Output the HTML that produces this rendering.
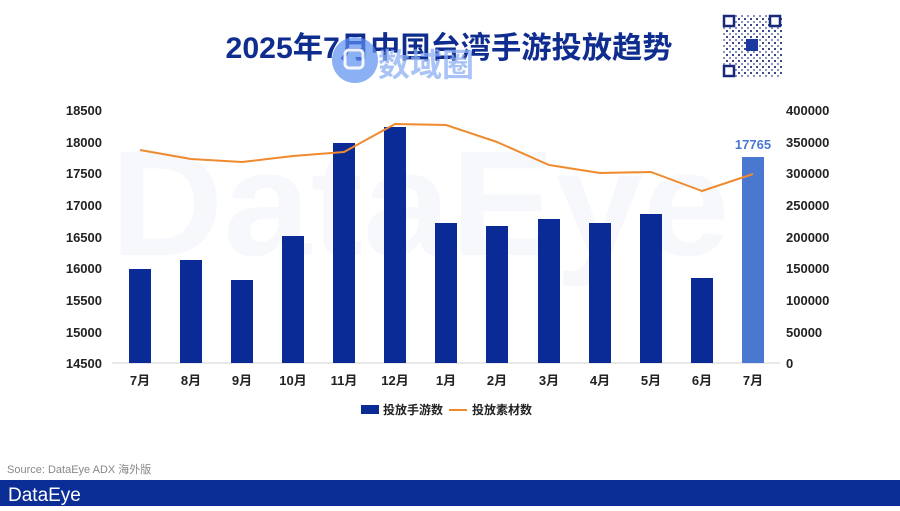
<!DOCTYPE html>
<html><head><meta charset="utf-8"><style>
html,body{margin:0;padding:0;background:#fff;}
body{width:900px;height:506px;overflow:hidden;font-family:"Liberation Sans","Noto Sans CJK SC",sans-serif;}
</style></head><body>
<svg width="900" height="506" xmlns="http://www.w3.org/2000/svg" font-family="Liberation Sans, Noto Sans CJK SC, sans-serif">
<defs>
<pattern id="qr" width="6" height="6" patternUnits="userSpaceOnUse">
<rect width="6" height="6" fill="#fff"/><rect x="0" y="0" width="2" height="2" fill="#3a4a8a"/><rect x="3" y="3" width="2" height="2" fill="#8a94bc"/>
</pattern>
</defs>
<text x="110" y="255" font-size="150" font-weight="bold" fill="#f6f8fc" textLength="620" lengthAdjust="spacingAndGlyphs">DataEye</text>
<text x="449" y="58" text-anchor="middle" font-size="30" font-weight="bold" fill="#0f2d8f" textLength="447" lengthAdjust="spacingAndGlyphs">2025年7月中国台湾手游投放趋势</text>
<circle cx="355" cy="60" r="23" fill="#5b8ff0" opacity="0.7"/>
<rect x="345" y="50" width="18" height="18" rx="4" fill="none" stroke="#fff" stroke-width="3" opacity="0.9"/>
<text x="378" y="76" font-size="32" font-weight="bold" fill="#8db0f5" opacity="0.75">数域圈</text>
<rect x="722" y="14" width="60" height="64" fill="url(#qr)"/>
<rect x="724" y="16" width="10" height="10" fill="#fff" stroke="#1a2a7a" stroke-width="2.5"/>
<rect x="770" y="16" width="10" height="10" fill="#fff" stroke="#1a2a7a" stroke-width="2.5"/>
<rect x="724" y="66" width="10" height="10" fill="#fff" stroke="#1a2a7a" stroke-width="2.5"/>
<rect x="746" y="39" width="12" height="12" fill="#1a3aa0"/>
<g font-size="13" font-weight="bold" fill="#222">
<g text-anchor="end">
<text x="102" y="115">18500</text><text x="102" y="147">18000</text><text x="102" y="178">17500</text>
<text x="102" y="210">17000</text><text x="102" y="242">16500</text><text x="102" y="273">16000</text>
<text x="102" y="305">15500</text><text x="102" y="337">15000</text><text x="102" y="368">14500</text>
</g>
<g text-anchor="start">
<text x="786" y="115">400000</text><text x="786" y="147">350000</text><text x="786" y="178">300000</text>
<text x="786" y="210">250000</text><text x="786" y="242">200000</text><text x="786" y="273">150000</text>
<text x="786" y="305">100000</text><text x="786" y="337">50000</text><text x="786" y="368">0</text>
</g>
<g text-anchor="middle">
<text x="140" y="385">7月</text><text x="191" y="385">8月</text><text x="242" y="385">9月</text>
<text x="293" y="385">10月</text><text x="344" y="385">11月</text><text x="395" y="385">12月</text>
<text x="446" y="385">1月</text><text x="497" y="385">2月</text><text x="549" y="385">3月</text>
<text x="600" y="385">4月</text><text x="651" y="385">5月</text><text x="702" y="385">6月</text>
<text x="753" y="385">7月</text>
</g>
</g>
<line x1="112" y1="363" x2="780" y2="363" stroke="#d0d0d0" stroke-width="1"/>
<g fill="#0a2a96">
<rect x="129" y="269" width="22" height="94"/>
<rect x="180" y="260" width="22" height="103"/>
<rect x="231" y="280" width="22" height="83"/>
<rect x="282" y="236" width="22" height="127"/>
<rect x="333" y="143" width="22" height="220"/>
<rect x="384" y="127" width="22" height="236"/>
<rect x="435" y="223" width="22" height="140"/>
<rect x="486" y="226" width="22" height="137"/>
<rect x="538" y="219" width="22" height="144"/>
<rect x="589" y="223" width="22" height="140"/>
<rect x="640" y="214" width="22" height="149"/>
<rect x="691" y="278" width="22" height="85"/>
</g>
<rect x="742" y="157" width="22" height="206" fill="#4a78d0"/>
<text x="753" y="149" text-anchor="middle" font-size="13" font-weight="bold" fill="#4a78d0">17765</text>
<polyline fill="none" stroke="#ef8a2e" stroke-width="2" stroke-linejoin="round" points="140,150 191,159 242,162 293,156 344,152 395,124 446,125 497,142 549,165 600,173 651,172 702,191 753,174"/>
<rect x="361" y="405" width="18" height="9" fill="#0a2a96"/>
<text x="383" y="414" font-size="12" font-weight="bold" fill="#222">投放手游数</text>
<line x1="449" y1="410" x2="467" y2="410" stroke="#ef8a2e" stroke-width="2"/>
<text x="472" y="414" font-size="12" font-weight="bold" fill="#222">投放素材数</text>
<text x="7" y="473" font-size="11" fill="#888">Source: DataEye ADX 海外版</text>
<rect x="0" y="480" width="900" height="26" fill="#0a2d96"/>
<text x="8" y="501" font-size="19" fill="#fff">DataEye</text>
</svg>
</body></html>
